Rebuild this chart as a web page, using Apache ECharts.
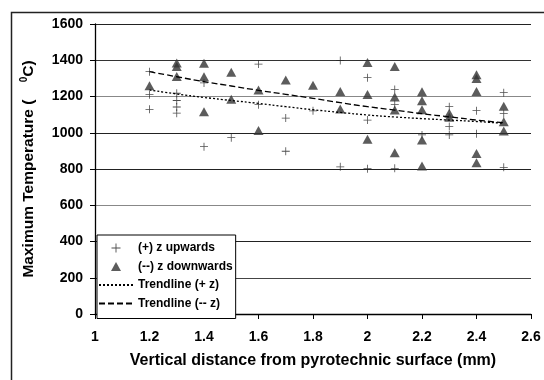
<!DOCTYPE html>
<html><head><meta charset="utf-8">
<script src="https://cdn.jsdelivr.net/npm/echarts@6/dist/echarts.min.js"></script>
<style>html,body{margin:0;padding:0;background:#fff}#c{width:544px;height:380px}</style>
</head><body><div id="c"></div>
<script>
var xTicks = [1, 1.2, 1.4, 1.6, 1.8, 2, 2.2, 2.4, 2.6];
var yTicks = [0, 200, 400, 600, 800, 1000, 1200, 1400, 1600];
var upwardsPoints = [
  [1.2,1337],[1.2,1210],[1.2,1129],
  [1.3,1218],[1.3,1178],[1.3,1142],[1.3,1108],
  [1.4,1275],[1.4,923],
  [1.5,973],
  [1.6,1379],[1.6,1155],
  [1.7,1081],[1.7,898],
  [1.8,1121],
  [1.9,1398],[1.9,812],
  [2.0,1304],[2.0,1070],[2.0,802],
  [2.1,1238],[2.1,1157],[2.1,804],
  [2.2,988],
  [2.3,1144],[2.3,1034],[2.3,988],
  [2.4,1122],[2.4,995],
  [2.5,1221],[2.5,1105],[2.5,809]
];
var downwardsPoints = [
  [1.2,1260],
  [1.3,1385],[1.3,1365],[1.3,1310],
  [1.4,1383],[1.4,1309],[1.4,1116],
  [1.5,1334],[1.5,1185],
  [1.6,1236],[1.6,1013],
  [1.7,1291],
  [1.8,1262],
  [1.9,1228],[1.9,1131],
  [2.0,1388],[2.0,1211],[2.0,964],
  [2.1,1365],[2.1,1197],[2.1,1125],[2.1,890],
  [2.2,1226],[2.2,1176],[2.2,1127],[2.2,960],[2.2,817],
  [2.3,1107],[2.3,1085],
  [2.4,1320],[2.4,1300],[2.4,1228],[2.4,886],[2.4,835],
  [2.5,1146],[2.5,1061],[2.5,1009]
];
var trendX = [1.2,1.3,1.4,1.5,1.6,1.7,1.8,1.9,2.0,2.1,2.2,2.3,2.4,2.5];
var trendUpY = [1236,1214,1195,1178,1162,1144,1127,1112,1098,1087,1078,1070,1062,1052];
var trendDownY = [1337,1309,1282,1258,1234,1212,1190,1166,1144,1125,1105,1088,1070,1055];

function pairs(xs, ys){ return xs.map(function(x,i){ return [x, ys[i]]; }); }
var plusPath = 'path://M4.5,0H5.5V4.5H10V5.5H5.5V10H4.5V5.5H0V4.5H4.5Z';
var triPath = 'path://M5,0L10,9L0,9Z';
var FONT = '"Liberation Sans", Arial, sans-serif';

var chart = echarts.init(document.getElementById('c'), null, {renderer:'canvas'});
chart.setOption({
  animation: false,
  backgroundColor: '#fff',
  graphic: [{
    type: 'rect', left: 9, top: 10, z: 100, silent: true,
    shape: {width: 600, height: 400},
    style: {fill: 'none', stroke: '#222', lineWidth: 1.5}
  }],
  grid: {left: 95, right: 13, top: 24, bottom: 66, containLabel: false},
  xAxis: {
    type: 'value', min: 1, max: 2.6, interval: 0.2,
    axisLine: {onZero: false, lineStyle: {color: '#000', width: 1.3}},
    axisTick: {show: true, inside: false, length: 5, lineStyle: {color: '#000'}},
    axisLabel: {margin: 16, color: '#000', fontWeight: 'bold', fontSize: 14, fontFamily: FONT,
      formatter: function(v){ var r = Math.round(v*10)/10; return xTicks.indexOf(r) >= 0 ? String(r) : ''; }},
    splitLine: {show: false},
    name: 'Vertical distance from pyrotechnic surface (mm)',
    nameLocation: 'middle', nameGap: 39,
    nameTextStyle: {color: '#000', fontWeight: 'bold', fontSize: 16, fontFamily: FONT}
  },
  yAxis: {
    type: 'value', min: 0, max: 1600, interval: 200,
    axisLine: {show: true, lineStyle: {color: '#000', width: 1.3}},
    axisTick: {show: true, inside: false, length: 5, lineStyle: {color: '#000'}},
    axisLabel: {margin: 12, color: '#000', fontWeight: 'bold', fontSize: 14, fontFamily: FONT,
      formatter: function(v){ return yTicks.indexOf(v) >= 0 ? String(v) : ''; }},
    splitLine: {show: true, lineStyle: {color: ['#222','#444','#222','#888','#222','#222','#888','#333','#222'], width: 1.2}},
    name: '{a|Maximum Temperature (    }{s|0}{a|C)}',
    nameLocation: 'middle', nameGap: 56,
    nameTextStyle: {
      rich: {
        a: {color: '#000', fontWeight: 'bold', fontSize: 15.5, fontFamily: FONT, lineHeight: 20},
        s: {color: '#000', fontWeight: 'bold', fontSize: 10, fontFamily: FONT, lineHeight: 20, verticalAlign: 'top', padding: [0,0,6,0]}
      }
    }
  },
  legend: {
    show: true, orient: 'vertical', left: 97, top: 235,
    backgroundColor: '#fff',
    borderColor: '#000', borderWidth: 1, borderRadius: 0,
    padding: [7, 3, 9, 1],
    itemWidth: 34, itemHeight: 9, itemGap: 6.5,
    textStyle: {color: '#000', fontWeight: 'bold', fontSize: 12, fontFamily: FONT},
    data: ['(+) z upwards', '(--) z downwards', 'Trendline (+ z)', 'Trendline (-- z)']
  },
  series: [
    {name: '(+) z upwards', type: 'scatter', data: upwardsPoints,
     symbol: plusPath, symbolSize: 8, symbolKeepAspect: true, itemStyle: {color: '#222'}, z: 3},
    {name: '(--) z downwards', type: 'scatter', data: downwardsPoints,
     symbol: triPath, symbolSize: 10, symbolKeepAspect: true, itemStyle: {color: '#333'}, z: 4},
    {name: 'Trendline (+ z)', type: 'line', data: pairs(trendX, trendUpY), smooth: true,
     symbol: 'none', itemStyle: {color: 'rgba(0,0,0,0)', borderWidth: 0},
     lineStyle: {color: '#000', width: 1.3, type: [2, 2]}, z: 5},
    {name: 'Trendline (-- z)', type: 'line', data: pairs(trendX, trendDownY), smooth: true,
     symbol: 'none', itemStyle: {color: 'rgba(0,0,0,0)', borderWidth: 0},
     lineStyle: {color: '#000', width: 1.3, type: [6, 3]}, z: 5}
  ]
});
</script></body></html>
